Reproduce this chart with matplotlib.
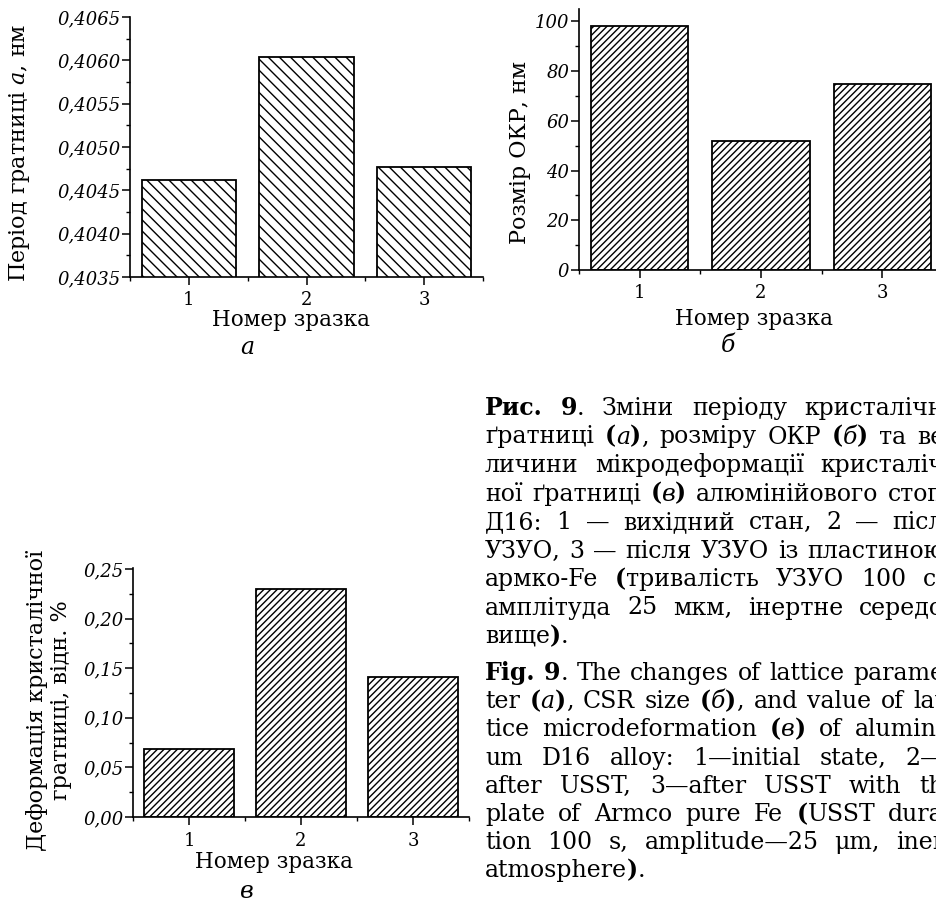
import re
import matplotlib
matplotlib.use('Agg')
import matplotlib.pyplot as plt

# fonts: serif with Cyrillic, italic maths letters in the same family
plt.rcParams['font.family'] = 'DejaVu Serif'
plt.rcParams['mathtext.fontset'] = 'dejavuserif'
plt.rcParams['hatch.linewidth'] = 1.0

W, H = 937, 902

# ---- data ----
samples = [1, 2, 3]
sample_labels = ['1', '2', '3']

lattice = [0.40462, 0.40604, 0.40477]
lattice_ticks = [0.4035, 0.4040, 0.4045, 0.4050, 0.4055, 0.4060, 0.4065]
lattice_ticklabels = ['0,4035', '0,4040', '0,4045', '0,4050', '0,4055', '0,4060', '0,4065']

csr = [98.3, 51.7, 74.8]
csr_ticks = [0, 20, 40, 60, 80, 100]
csr_ticklabels = ['0', '20', '40', '60', '80', '100']

strain = [0.069, 0.230, 0.141]
strain_ticks = [0.00, 0.05, 0.10, 0.15, 0.20, 0.25]
strain_ticklabels = ['0,00', '0,05', '0,10', '0,15', '0,20', '0,25']

caption_ua = [
    '**Рис. 9**. Зміни періоду кристалічн',
    'ґратниці **(**_а_**)**, розміру ОКР **(**_б_**)** та ве',
    'личини мікродеформації кристаліч',
    'ної ґратниці **(**_в_**)** алюмінійового стоп',
    'Д16: 1 — вихідний стан, 2 — післ',
    'УЗУО, 3 — після УЗУО із пластиною',
    'армко-Fe **(**тривалість УЗУО 100 с,',
    'амплітуда 25 мкм, інертне середо',
    'вище**)**.',
]
caption_en = [
    '**Fig. 9**. The changes of lattice parame',
    'ter **(**_а_**)**, CSR size **(**_б_**)**, and value of lat',
    'tice microdeformation **(**_в_**)** of alumini',
    'um D16 alloy: 1—initial state, 2—',
    'after USST, 3—after USST with th',
    'plate of Armco pure Fe **(**USST dura',
    'tion 100 s, amplitude—25 μm, iner',
    'atmosphere**)**.',
]


def fx(x):
    return x / W


def fy(y):
    return 1 - y / H


fig = plt.figure(figsize=(W / 100, H / 100), dpi=100)
fig.patch.set_facecolor('white')


def px_axes(left, top, right, bottom):
    return fig.add_axes([fx(left), fy(bottom), (right - left) / W, (bottom - top) / H])


def bar_panel(ax, values, hatch, yticks, yticklabels, ylim, xpad):
    ax.bar(samples, values, width=0.8, color='white', edgecolor='black',
           linewidth=1.3, hatch=hatch, zorder=2)
    ax.set_xlim(0.5, 3.5)
    ax.set_ylim(*ylim)
    for s in ('top', 'right'):
        ax.spines[s].set_visible(False)
    for s in ('left', 'bottom'):
        ax.spines[s].set_linewidth(1.2)
    ax.set_xticks(samples)
    ax.set_xticklabels(sample_labels, fontsize=13)
    ax.set_xticks([0.5, 1.5, 2.5, 3.5], minor=True)
    ax.set_yticks(yticks)
    ax.set_yticklabels(yticklabels, fontsize=13, fontstyle='italic')
    step = yticks[1] - yticks[0]
    ax.set_yticks([t + step / 2 for t in yticks[:-1]], minor=True)
    ax.tick_params(which='major', direction='out', length=6, width=1.1)
    ax.tick_params(which='minor', direction='out', length=3, width=1.0)
    ax.tick_params(axis='y', which='major', pad=1)
    ax.tick_params(axis='x', which='major', pad=xpad)
    ax.set_facecolor('none')


# panel a
ax_a = px_axes(130, 17, 483, 277)
bar_panel(ax_a, lattice, '\\\\\\', lattice_ticks, lattice_ticklabels, (0.4035, 0.4065), 4)
fig.text(fx(20), fy(153), 'Період гратниці $a$, нм', rotation=90,
         ha='center', va='center', fontsize=16)
fig.text(fx(291), fy(320), 'Номер зразка', ha='center', va='center', fontsize=15.5)
fig.text(fx(247), fy(347), 'а', ha='center', va='center', fontsize=17, fontstyle='italic')

# panel b
ax_b = px_axes(579, 9, 943, 270)
bar_panel(ax_b, csr, '/////', csr_ticks, csr_ticklabels, (0, 105), 4)
fig.text(fx(520), fy(152), 'Розмір ОКР, нм', rotation=90,
         ha='center', va='center', fontsize=16)
fig.text(fx(754), fy(319), 'Номер зразка', ha='center', va='center', fontsize=15.5)
fig.text(fx(728), fy(345), 'б', ha='center', va='center', fontsize=17, fontstyle='italic')

# panel c
ax_c = px_axes(133, 568, 469, 817)
bar_panel(ax_c, strain, '/////', strain_ticks, strain_ticklabels, (0, 0.251), 5)
fig.text(fx(49), fy(700), 'Деформація кристалічної\nгратниці, відн. %', rotation=90,
         ha='center', va='center', fontsize=16, multialignment='center', linespacing=1.1)
fig.text(fx(274), fy(862), 'Номер зразка', ha='center', va='center', fontsize=15.5)
fig.text(fx(247), fy(892), 'в', ha='center', va='center', fontsize=17, fontstyle='italic')

# ---- caption, justified line by line ----
renderer = fig.canvas.get_renderer()
CAP_SIZE = 17


def parse(line):
    runs = []
    for part in re.split(r'(\*\*.*?\*\*|_.*?_)', line):
        if not part:
            continue
        if part.startswith('**'):
            runs.append((part[2:-2], 'bold', 'normal'))
        elif part.startswith('_'):
            runs.append((part[1:-1], 'normal', 'italic'))
        else:
            runs.append((part, 'normal', 'normal'))
    words = [[]]
    for txt, weight, style in runs:
        pieces = txt.split(' ')
        for i, p in enumerate(pieces):
            if i > 0:
                words.append([])
            if p:
                words[-1].append((p, weight, style))
    return [w for w in words if w]


def caption_line(line, y_px, justify=True, x0=485, x1=944):
    words = parse(line)
    arts, widths = [], []
    for word in words:
        wa, ws = [], []
        for txt, weight, style in word:
            t = fig.text(0, 0, txt, fontsize=CAP_SIZE, fontweight=weight,
                         fontstyle=style, ha='left', va='baseline')
            wa.append(t)
            ws.append(t.get_window_extent(renderer).width)
        arts.append(wa)
        widths.append(ws)
    total = sum(sum(ws) for ws in widths)
    gap = CAP_SIZE * 100 / 72 * 0.3
    if justify and len(words) > 1:
        gap = max((x1 - x0 - total) / (len(words) - 1), gap * 0.6)
    x = x0
    for wa, ws in zip(arts, widths):
        for t, w in zip(wa, ws):
            t.set_position((fx(x), fy(y_px)))
            x += w
        x += gap


for i, line in enumerate(caption_ua):
    caption_line(line, 415 + 28.5 * i, justify=(i < len(caption_ua) - 1))
for i, line in enumerate(caption_en):
    caption_line(line, 680 + 28.2 * i, justify=(i < len(caption_en) - 1))

fig.savefig('out.png', dpi=100)
